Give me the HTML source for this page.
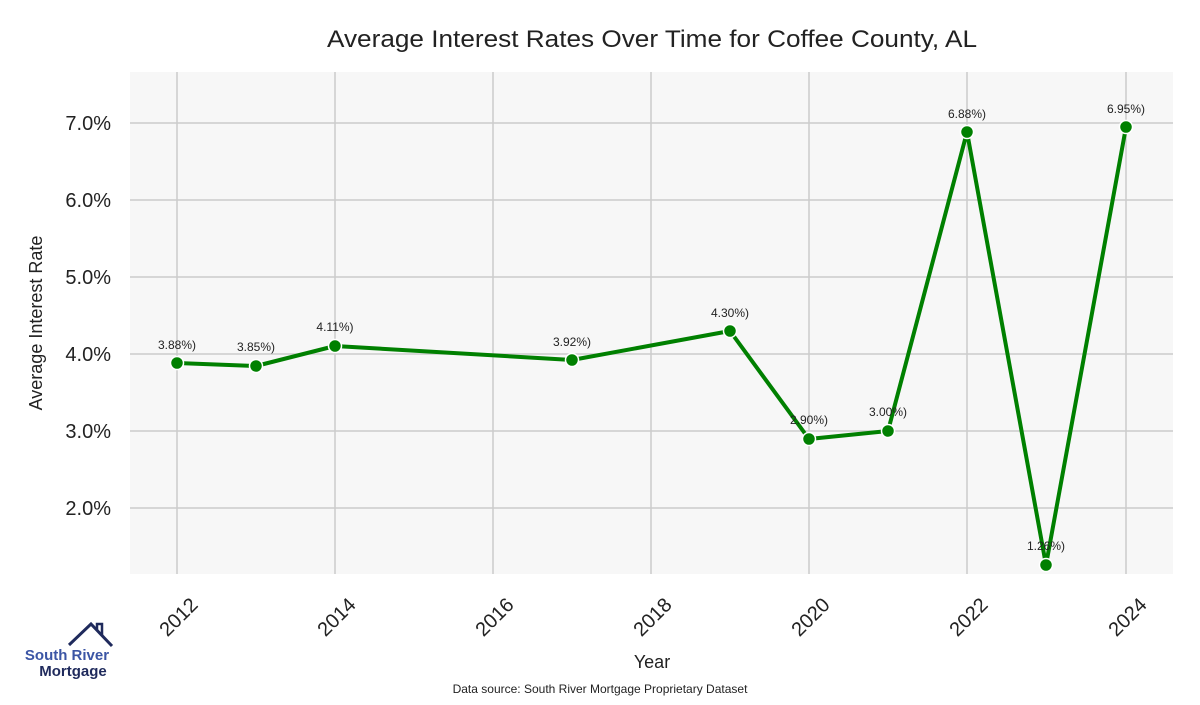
<!DOCTYPE html>
<html><head><style>body{margin:0;background:#fff}</style></head><body>
<svg width="1200" height="700" xmlns="http://www.w3.org/2000/svg" font-family="Liberation Sans, sans-serif">
<rect width="1200" height="700" fill="#fff"/>
<rect x="130" y="72" width="1043" height="502" fill="#f7f7f7"/>
<g stroke="#cccccc" stroke-width="1.5">
<line x1="177" y1="72" x2="177" y2="574"/><line x1="335" y1="72" x2="335" y2="574"/><line x1="493" y1="72" x2="493" y2="574"/><line x1="651" y1="72" x2="651" y2="574"/><line x1="809" y1="72" x2="809" y2="574"/><line x1="967" y1="72" x2="967" y2="574"/><line x1="1126" y1="72" x2="1126" y2="574"/>
<line x1="130" y1="123" x2="1173" y2="123"/><line x1="130" y1="200" x2="1173" y2="200"/><line x1="130" y1="277" x2="1173" y2="277"/><line x1="130" y1="354" x2="1173" y2="354"/><line x1="130" y1="431" x2="1173" y2="431"/><line x1="130" y1="508" x2="1173" y2="508"/>
</g>
<text x="652" y="47" font-size="24" text-anchor="middle" fill="#222" textLength="650" lengthAdjust="spacingAndGlyphs">Average Interest Rates Over Time for Coffee County, AL</text>
<g font-size="20" fill="#222" text-anchor="end">
<text x="111" y="130">7.0%</text><text x="111" y="207">6.0%</text><text x="111" y="284">5.0%</text><text x="111" y="361">4.0%</text><text x="111" y="438">3.0%</text><text x="111" y="515">2.0%</text>
</g>
<text transform="translate(42,323) rotate(-90)" font-size="18" text-anchor="middle" fill="#222">Average Interest Rate</text>
<g font-size="20" fill="#222" text-anchor="end">
<text transform="translate(199,606) rotate(-45)">2012</text><text transform="translate(357,606) rotate(-45)">2014</text><text transform="translate(515,606) rotate(-45)">2016</text><text transform="translate(673,606) rotate(-45)">2018</text><text transform="translate(831,606) rotate(-45)">2020</text><text transform="translate(989,606) rotate(-45)">2022</text><text transform="translate(1148,606) rotate(-45)">2024</text>
</g>
<text x="652" y="668" font-size="18" text-anchor="middle" fill="#222">Year</text>
<text x="600" y="693" font-size="12" text-anchor="middle" fill="#222">Data source: South River Mortgage Proprietary Dataset</text>
<polyline fill="none" stroke="#008000" stroke-width="4" stroke-linejoin="round" points="177,363 256,366 335,346 572,360 730,331 809,439 888,431 967,132 1046,565 1126,127"/>
<g fill="#008000" stroke="#fff" stroke-width="1.5">
<circle cx="177" cy="363" r="6.5"/><circle cx="256" cy="366" r="6.5"/><circle cx="335" cy="346" r="6.5"/><circle cx="572" cy="360" r="6.5"/><circle cx="730" cy="331" r="6.5"/><circle cx="809" cy="439" r="6.5"/><circle cx="888" cy="431" r="6.5"/><circle cx="967" cy="132" r="6.5"/><circle cx="1046" cy="565" r="6.5"/><circle cx="1126" cy="127" r="6.5"/>
</g>
<g font-size="12" fill="#222" text-anchor="middle">
<text x="177" y="349">3.88%)</text><text x="256" y="351">3.85%)</text><text x="335" y="331">4.11%)</text><text x="572" y="346">3.92%)</text><text x="730" y="317">4.30%)</text><text x="809" y="424">2.90%)</text><text x="888" y="416">3.00%)</text><text x="967" y="118">6.88%)</text><text x="1046" y="550">1.26%)</text><text x="1126" y="113">6.95%)</text>
</g>
<polyline fill="none" stroke="#1f2a5c" stroke-width="3" points="69,645 91,624 112,646"/>
<polyline fill="none" stroke="#1f2a5c" stroke-width="2.5" points="97,630 97,624 102,624 102,636"/>
<text x="67" y="660" font-size="15" font-weight="bold" text-anchor="middle" fill="#3b55a5">South River</text>
<text x="73" y="676" font-size="15" font-weight="bold" text-anchor="middle" fill="#1f2a5c">Mortgage</text>
</svg>
</body></html>
